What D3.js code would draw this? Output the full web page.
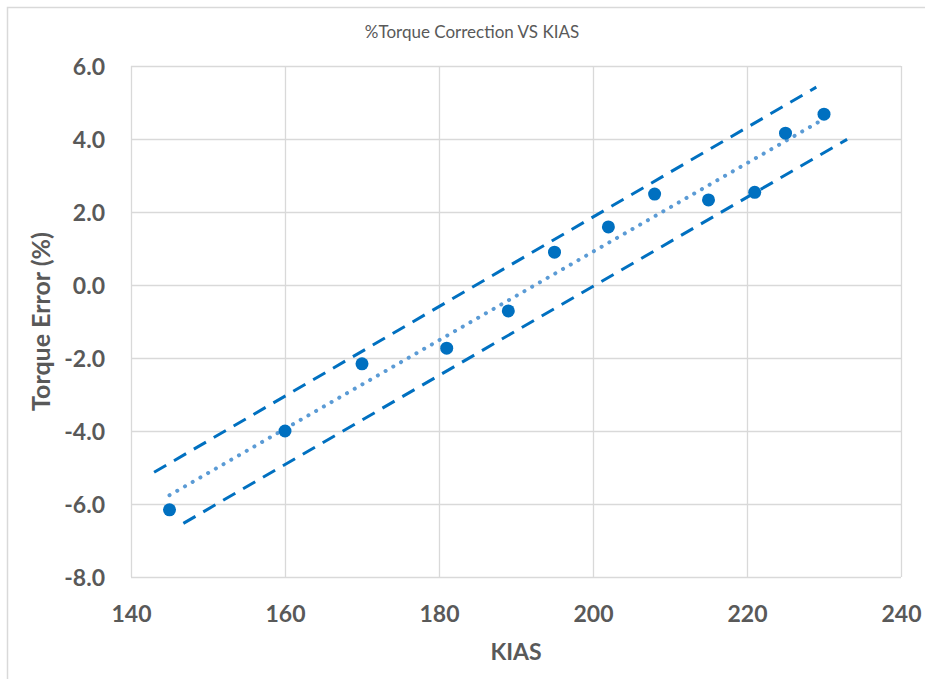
<!DOCTYPE html>
<html>
<head>
<meta charset="utf-8">
<script src="https://cdn.jsdelivr.net/npm/d3@7"></script>
<style>
  html, body { margin: 0; padding: 0; background: #ffffff; }
  svg { display: block; }
  text { font-family: Lato, "Open Sans", sans-serif; fill: #595959; }
</style>
</head>
<body>
<svg id="chart" width="925" height="679"></svg>
<script>
// Measured airspeed (KIAS) and torque error (%)
const kias = [145, 160, 170, 181, 189, 195, 202, 208, 215, 221, 225, 230];
const torqueError = [-6.16, -4.0, -2.16, -1.73, -0.71, 0.90, 1.59, 2.49, 2.33, 2.54, 4.16, 4.68];

// Linear trend and its upper / lower band, as [kias, error] end points
const trendLine = [[145, -5.76], [230, 4.55]];
const upperBand = [[143, -5.13], [229, 5.42]];
const lowerBand = [[146.8, -6.53], [233, 3.99]];

// Axis ticks
const xTicks = [140, 160, 180, 200, 220, 240];
const yTicks = [-8, -6, -4, -2, 0, 2, 4, 6];

const chartTitle = "%Torque Correction VS KIAS";
const xTitle = "KIAS";
const yTitle = "Torque Error (%)";

const svg = d3.select("#chart");
const plot = { left: 131, right: 901, top: 66, bottom: 577 };

const x = d3.scaleLinear().domain([140, 240]).range([plot.left, plot.right]);
const y = d3.scaleLinear().domain([-8, 6]).range([plot.bottom, plot.top]);

// Chart frame
svg.append("rect")
  .attr("x", 7.5).attr("y", 7.5)
  .attr("width", 1000).attr("height", 1000)
  .attr("fill", "#ffffff")
  .attr("stroke", "#d9d9d9")
  .attr("stroke-width", 1.5);

// Gridlines
const grid = svg.append("g").attr("class", "grid");
grid.selectAll("line.h").data(yTicks).join("line")
  .attr("class", "h")
  .attr("x1", plot.left).attr("x2", plot.right)
  .attr("y1", d => Math.round(y(d)) + 0.5).attr("y2", d => Math.round(y(d)) + 0.5)
  .attr("stroke", "#d9d9d9").attr("stroke-width", 1.3);
grid.selectAll("line.v").data(xTicks).join("line")
  .attr("class", "v")
  .attr("y1", plot.top).attr("y2", plot.bottom)
  .attr("x1", d => Math.round(x(d)) + 0.5).attr("x2", d => Math.round(x(d)) + 0.5)
  .attr("stroke", "#d9d9d9").attr("stroke-width", 1.3);

// Axes (labels only; lines come from the grid)
const xAxis = d3.axisBottom(x).tickValues(xTicks).tickFormat(d => String(d)).tickSize(0).tickPadding(0);
const gx = svg.append("g").attr("transform", `translate(0,${plot.bottom})`).call(xAxis);
gx.select(".domain").remove();
gx.selectAll("text")
  .attr("y", 45).attr("dy", null)
  .style("font-size", "23px").style("font-weight", "bold").attr("fill", "#595959");

// Plain hyphen for negatives, one decimal place
const yAxis = d3.axisLeft(y).tickValues(yTicks).tickFormat(d => d.toFixed(1)).tickSize(0).tickPadding(0);
const gy = svg.append("g").attr("transform", `translate(${plot.left},0)`).call(yAxis);
gy.select(".domain").remove();
gy.selectAll("text")
  .attr("x", -26).attr("dy", "0.35em")
  .style("font-size", "23px").style("font-weight", "bold").attr("fill", "#595959");

const line = d3.line().x(d => x(d[0])).y(d => y(d[1]));

// Band lines (dashed)
[upperBand, lowerBand].forEach(band => {
  svg.append("path")
    .attr("d", line(band))
    .attr("fill", "none")
    .attr("stroke", "#0070c0")
    .attr("stroke-width", 3)
    .attr("stroke-dasharray", "14,9");
});

// Trend line (dotted)
svg.append("path")
  .attr("d", line(trendLine))
  .attr("fill", "none")
  .attr("stroke", "#5b9bd5")
  .attr("stroke-width", 4)
  .attr("stroke-linecap", "round")
  .attr("stroke-dasharray", "0.1,8.8");

// Data points
svg.append("g").selectAll("circle")
  .data(kias.map((k, i) => [k, torqueError[i]]))
  .join("circle")
  .attr("cx", d => x(d[0]))
  .attr("cy", d => y(d[1]))
  .attr("r", 6.5)
  .attr("fill", "#0070c0");

// Titles
svg.append("text")
  .attr("x", 472).attr("y", 38)
  .attr("text-anchor", "middle")
  .style("font-size", "17px")
  .text(chartTitle);

svg.append("text")
  .attr("x", (plot.left + plot.right) / 2).attr("y", 660)
  .attr("text-anchor", "middle")
  .style("font-size", "23px").style("font-weight", "bold")
  .text(xTitle);

svg.append("text")
  .attr("transform", `translate(50,${(plot.top + plot.bottom) / 2}) rotate(-90)`)
  .attr("text-anchor", "middle")
  .style("font-size", "25px").style("font-weight", "bold")
  .text(yTitle);
</script>
</body>
</html>
